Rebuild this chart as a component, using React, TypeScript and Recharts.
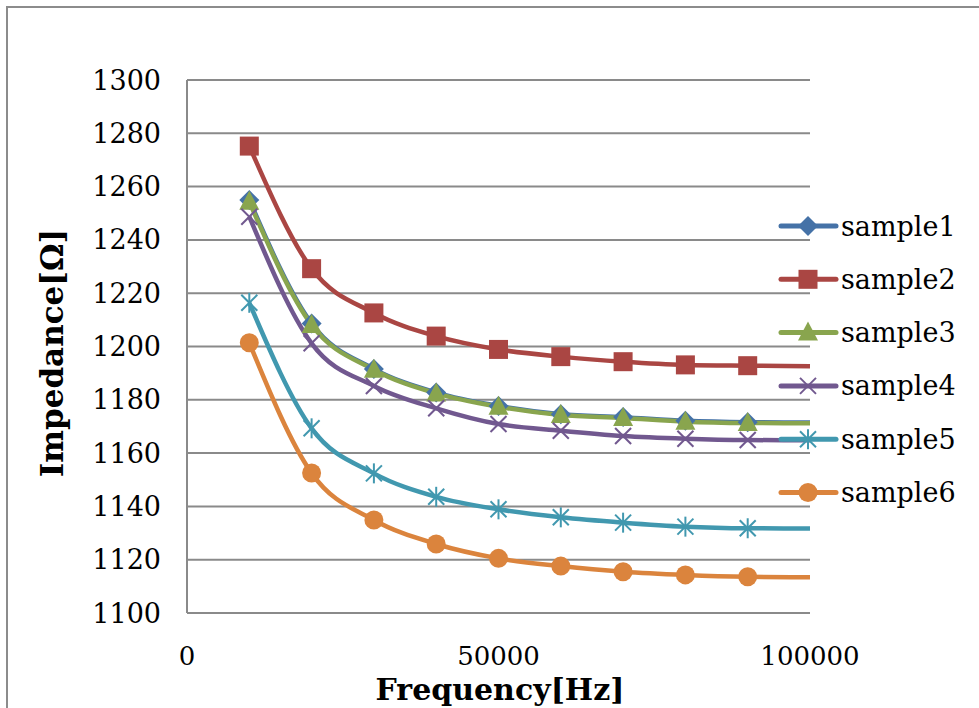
import React from 'react';
import { LineChart, Line, XAxis, YAxis, CartesianGrid, Legend, Label } from 'recharts';

// measurement frequencies [Hz]
const frequencies = [10000, 20000, 30000, 40000, 50000, 60000, 70000, 80000, 90000, 100000];

// impedance per sample [Ω]
const sample1 = [1255.0, 1208.6, 1191.6, 1182.7, 1177.7, 1174.6, 1173.5, 1172.1, 1171.6, 1171.5];
const sample2 = [1275.2, 1229.2, 1212.6, 1203.9, 1198.9, 1196.2, 1194.3, 1193.1, 1192.8, 1192.6];
const sample3 = [1254.3, 1208.1, 1191.3, 1182.4, 1177.4, 1174.3, 1173.2, 1171.8, 1171.3, 1171.2];
const sample4 = [1248.7, 1201.2, 1185.2, 1176.8, 1170.9, 1168.4, 1166.4, 1165.4, 1164.9, 1164.8];
const sample5 = [1216.4, 1169.3, 1152.4, 1143.6, 1138.9, 1135.9, 1133.9, 1132.4, 1131.8, 1131.7];
const sample6 = [1201.4, 1152.5, 1134.9, 1125.9, 1120.5, 1117.6, 1115.5, 1114.3, 1113.6, 1113.4];

const xTicks = [0, 50000, 100000];
const yTicks = [1100, 1120, 1140, 1160, 1180, 1200, 1220, 1240, 1260, 1280, 1300];

const FONT = '"DejaVu Serif", serif';
const GRID = '#8a8a8a';

type Shape = 'diamond' | 'square' | 'triangle' | 'cross' | 'star' | 'circle';

const series: { key: string; color: string; shape: Shape; values: number[] }[] = [
  { key: 'sample1', color: '#4572A7', shape: 'diamond', values: sample1 },
  { key: 'sample2', color: '#AA4643', shape: 'square', values: sample2 },
  { key: 'sample3', color: '#89A54E', shape: 'triangle', values: sample3 },
  { key: 'sample4', color: '#71588F', shape: 'cross', values: sample4 },
  { key: 'sample5', color: '#4198AF', shape: 'star', values: sample5 },
  { key: 'sample6', color: '#DB843D', shape: 'circle', values: sample6 },
];

const data = frequencies.map((f, i) => {
  const row: Record<string, number> = { freq: f };
  series.forEach((s) => {
    row[s.key] = s.values[i];
  });
  return row;
});

const Marker = ({ shape, color, cx, cy }: { shape: Shape; color: string; cx: number; cy: number }) => {
  switch (shape) {
    case 'diamond':
      return <polygon points={`${cx},${cy - 10} ${cx + 10},${cy} ${cx},${cy + 10} ${cx - 10},${cy}`} fill={color} />;
    case 'square':
      return <rect x={cx - 9.5} y={cy - 9.5} width={19} height={19} fill={color} />;
    case 'triangle':
      return <polygon points={`${cx},${cy - 11} ${cx + 10},${cy + 8} ${cx - 10},${cy + 8}`} fill={color} />;
    case 'cross':
      return (
        <g stroke={color} strokeWidth={2}>
          <line x1={cx - 8} y1={cy - 8} x2={cx + 8} y2={cy + 8} />
          <line x1={cx - 8} y1={cy + 8} x2={cx + 8} y2={cy - 8} />
        </g>
      );
    case 'star':
      return (
        <g stroke={color} strokeWidth={2}>
          <line x1={cx - 8} y1={cy - 8} x2={cx + 8} y2={cy + 8} />
          <line x1={cx - 8} y1={cy + 8} x2={cx + 8} y2={cy - 8} />
          <line x1={cx} y1={cy - 10} x2={cx} y2={cy + 10} />
        </g>
      );
    default:
      return <circle cx={cx} cy={cy} r={9.5} fill={color} />;
  }
};

// markers only on the measured points up to 90 kHz
const makeDot = (shape: Shape, color: string) => (props: any) => {
  const { cx, cy, payload, index } = props;
  if (payload.freq > 90000) return <g key={`d-${index}`} />;
  return (
    <g key={`d-${index}`}>
      <Marker shape={shape} color={color} cx={cx} cy={cy} />
    </g>
  );
};

const YTick = (props: any) => {
  const { y, payload } = props;
  return (
    <text x={161} y={y} textAnchor="end" dominantBaseline="central" fontFamily={FONT} fontSize={27} fill="#000">
      {payload.value}
    </text>
  );
};

const XTick = (props: any) => {
  const { x, payload } = props;
  return (
    <text x={x} y={656} textAnchor="middle" dominantBaseline="central" fontFamily={FONT} fontSize={26} fill="#000">
      {payload.value}
    </text>
  );
};

const LegendBox = () => (
  <svg width={979} height={708} style={{ position: 'absolute', left: 0, top: 0 }}>
    {series.map((s, i) => {
      const y = 226 + i * 53.3;
      return (
        <g key={s.key}>
          <line x1={781} y1={y} x2={836} y2={y} stroke={s.color} strokeWidth={5} strokeLinecap="round" />
          <Marker shape={s.shape} color={s.color} cx={808} cy={y} />
          <text x={841} y={y} dominantBaseline="central" fontFamily={FONT} fontSize={27} fill="#000">
            {s.key}
          </text>
        </g>
      );
    })}
  </svg>
);

export default function App() {
  return (
    <div style={{ position: 'absolute', left: 0, top: 0, width: 979, height: 708, overflow: 'hidden', background: '#fff' }}>
      <div
        style={{
          position: 'absolute',
          left: 6,
          top: 6,
          width: 1100,
          height: 800,
          borderLeft: '2px solid #8c8c8c',
          borderTop: '2px solid #8c8c8c',
        }}
      />
      <LineChart
        width={979}
        height={708}
        data={data}
        margin={{ top: 80, right: 169, bottom: 35, left: 0 }}
        style={{ position: 'absolute', left: 0, top: 0 }}
      >
        <CartesianGrid vertical={false} stroke={GRID} strokeWidth={2} />
        <XAxis
          dataKey="freq"
          type="number"
          domain={[0, 100000]}
          ticks={xTicks}
          height={60}
          axisLine={false}
          tickLine={false}
          tick={<XTick />}
          interval={0}
        >
          <Label
            content={() => (
              <text x={500} y={700} textAnchor="middle" fontFamily={FONT} fontSize={30} fontWeight="bold" fill="#000">
                Frequency[Hz]
              </text>
            )}
          />
        </XAxis>
        <YAxis
          type="number"
          domain={[1100, 1300]}
          ticks={yTicks}
          width={187}
          axisLine={{ stroke: GRID, strokeWidth: 2 }}
          tickLine={false}
          tick={<YTick />}
          interval={0}
        >
          <Label
            content={() => (
              <text
                x={52}
                y={353}
                transform="rotate(-90 52 353)"
                textAnchor="middle"
                dominantBaseline="central"
                fontFamily={FONT}
                fontSize={31}
                fontWeight="bold"
                fill="#000"
              >
                Impedance[Ω]
              </text>
            )}
          />
        </YAxis>
        <Legend
          layout="horizontal"
          verticalAlign="middle"
          align="center"
          wrapperStyle={{ position: 'absolute', left: 0, top: 0, width: 979, height: 708 }}
          content={() => <LegendBox />}
        />
        {series.map((s) => (
          <Line
            key={s.key}
            type="monotone"
            dataKey={s.key}
            stroke={s.color}
            strokeWidth={4.5}
            dot={makeDot(s.shape, s.color)}
            activeDot={false}
            isAnimationActive={false}
          />
        ))}
      </LineChart>
    </div>
  );
}
